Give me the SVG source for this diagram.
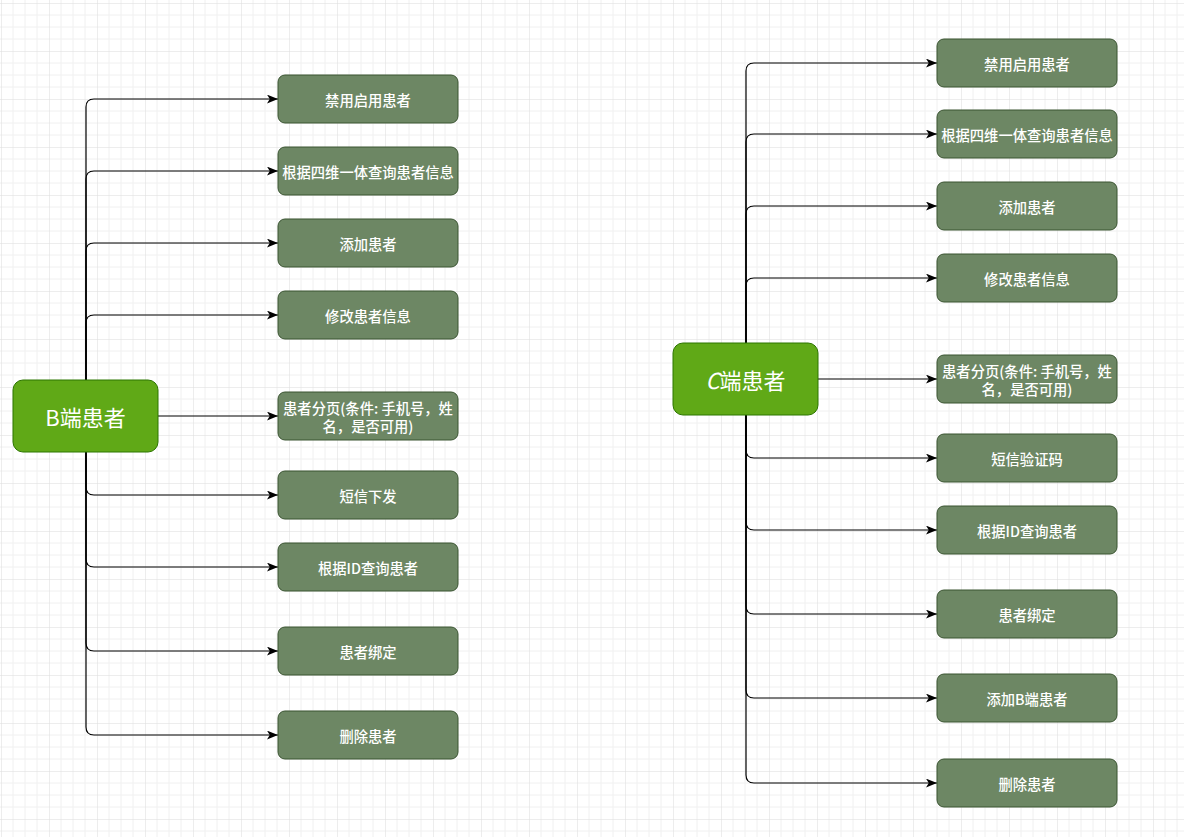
<svg xmlns="http://www.w3.org/2000/svg" width="1184" height="837" viewBox="0 0 1184 837">
<defs>
<pattern id="grid" patternUnits="userSpaceOnUse" x="1" y="3" width="48" height="48">
<path d="M12,0V48M24,0V48M36,0V48M0,12H48M0,24H48M0,36H48" stroke="#f0f0f0" stroke-width="1" fill="none"/>
<path d="M0,0V48M0,0H48" stroke="#dcdcdc" stroke-width="1" fill="none"/>
</pattern>
<marker id="arr" markerUnits="userSpaceOnUse" viewBox="0 0 10 8" refX="10" refY="4" markerWidth="11" markerHeight="9" orient="auto">
<path d="M0,0L10,4L0,8L2.5,4z" fill="#000"/>
</marker>
</defs>
<style>
.edge{fill:none;stroke:#000;stroke-width:1.2;marker-end:url(#arr)}
.root{fill:#60a917;stroke:#2d7600;stroke-width:1}
.leaf{fill:#6d8764;stroke:#3a5431;stroke-width:1}
.rt{font-family:"Noto Sans CJK SC","Noto Sans",sans-serif;font-size:22px;fill:#fff;text-anchor:middle;dominant-baseline:central}
.lt{font-family:"Noto Sans CJK SC","Noto Sans",sans-serif;font-size:14.3px;font-weight:500;fill:#fff;text-anchor:middle;dominant-baseline:central}
</style>
<rect width="1184" height="837" fill="#fff"/>
<rect width="1184" height="837" fill="url(#grid)"/>
<g id="connectors">
<path class="edge" d="M86,380V107Q86,99 94,99H278"/>
<path class="edge" d="M86,380V179Q86,171 94,171H278"/>
<path class="edge" d="M86,380V251Q86,243 94,243H278"/>
<path class="edge" d="M86,380V323Q86,315 94,315H278"/>
<path class="edge" d="M158,416H278"/>
<path class="edge" d="M86,452V487Q86,495 94,495H278"/>
<path class="edge" d="M86,452V559Q86,567 94,567H278"/>
<path class="edge" d="M86,452V643Q86,651 94,651H278"/>
<path class="edge" d="M86,452V727Q86,735 94,735H278"/>
<path class="edge" d="M746,343V71Q746,63 754,63H937"/>
<path class="edge" d="M746,343V142Q746,134 754,134H937"/>
<path class="edge" d="M746,343V214Q746,206 754,206H937"/>
<path class="edge" d="M746,343V286Q746,278 754,278H937"/>
<path class="edge" d="M818,379H937"/>
<path class="edge" d="M746,415V450Q746,458 754,458H937"/>
<path class="edge" d="M746,415V522Q746,530 754,530H937"/>
<path class="edge" d="M746,415V606Q746,614 754,614H937"/>
<path class="edge" d="M746,415V690Q746,698 754,698H937"/>
<path class="edge" d="M746,415V775Q746,783 754,783H937"/>
</g>
<g id="b-root"><rect class="root" x="13" y="380" width="145" height="72" rx="10"/><text class="rt" x="85.5" y="416">B端患者</text></g>
<g id="b1"><rect class="leaf" x="278" y="75" width="180" height="48" rx="7"/><text class="lt" x="368" y="99">禁用启用患者</text></g>
<g id="b2"><rect class="leaf" x="278" y="147" width="180" height="48" rx="7"/><text class="lt" x="368" y="171">根据四维一体查询患者信息</text></g>
<g id="b3"><rect class="leaf" x="278" y="219" width="180" height="48" rx="7"/><text class="lt" x="368" y="243">添加患者</text></g>
<g id="b4"><rect class="leaf" x="278" y="291" width="180" height="48" rx="7"/><text class="lt" x="368" y="315">修改患者信息</text></g>
<g id="b5"><rect class="leaf" x="278" y="392" width="180" height="48" rx="7"/><text class="lt" x="368" y="407.5">患者分页(条件: 手机号，姓<tspan x="368" dy="17">名，是否可用)</tspan></text></g>
<g id="b6"><rect class="leaf" x="278" y="471" width="180" height="48" rx="7"/><text class="lt" x="368" y="495">短信下发</text></g>
<g id="b7"><rect class="leaf" x="278" y="543" width="180" height="48" rx="7"/><text class="lt" x="368" y="567">根据ID查询患者</text></g>
<g id="b8"><rect class="leaf" x="278" y="627" width="180" height="48" rx="7"/><text class="lt" x="368" y="651">患者绑定</text></g>
<g id="b9"><rect class="leaf" x="278" y="711" width="180" height="48" rx="7"/><text class="lt" x="368" y="735">删除患者</text></g>
<g id="c-root"><rect class="root" x="673" y="343" width="145" height="72" rx="10"/><text class="rt" x="745.5" y="379"><tspan font-style="italic">C</tspan>端患者</text></g>
<g id="c1"><rect class="leaf" x="937" y="39" width="180" height="48" rx="7"/><text class="lt" x="1027" y="63">禁用启用患者</text></g>
<g id="c2"><rect class="leaf" x="937" y="110" width="180" height="48" rx="7"/><text class="lt" x="1027" y="134">根据四维一体查询患者信息</text></g>
<g id="c3"><rect class="leaf" x="937" y="182" width="180" height="48" rx="7"/><text class="lt" x="1027" y="206">添加患者</text></g>
<g id="c4"><rect class="leaf" x="937" y="254" width="180" height="48" rx="7"/><text class="lt" x="1027" y="278">修改患者信息</text></g>
<g id="c5"><rect class="leaf" x="937" y="355" width="180" height="48" rx="7"/><text class="lt" x="1027" y="370.5">患者分页(条件: 手机号，姓<tspan x="1027" dy="17">名，是否可用)</tspan></text></g>
<g id="c6"><rect class="leaf" x="937" y="434" width="180" height="48" rx="7"/><text class="lt" x="1027" y="458">短信验证码</text></g>
<g id="c7"><rect class="leaf" x="937" y="506" width="180" height="48" rx="7"/><text class="lt" x="1027" y="530">根据ID查询患者</text></g>
<g id="c8"><rect class="leaf" x="937" y="590" width="180" height="48" rx="7"/><text class="lt" x="1027" y="614">患者绑定</text></g>
<g id="c9"><rect class="leaf" x="937" y="674" width="180" height="48" rx="7"/><text class="lt" x="1027" y="698">添加B端患者</text></g>
<g id="c10"><rect class="leaf" x="937" y="759" width="180" height="48" rx="7"/><text class="lt" x="1027" y="783">删除患者</text></g>
</svg>
